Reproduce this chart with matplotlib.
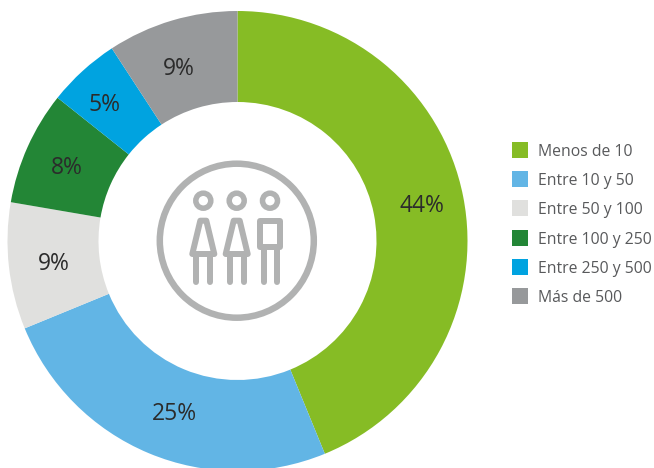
import matplotlib
matplotlib.use("Agg")
import matplotlib.pyplot as plt
from matplotlib.patches import Circle, Polygon, Rectangle

plt.rcParams['font.family'] = ['Open Sans', 'DejaVu Sans']

categories = ["Menos de 10", "Entre 10 y 50", "Entre 50 y 100",
              "Entre 100 y 250", "Entre 250 y 500", "Más de 500"]
values = [43.8, 25.0, 8.9, 8.0, 5.1, 9.2]
pct_labels = ["44%", "25%", "9%", "8%", "5%", "9%"]
colors = ["#86BC25", "#62B5E5", "#E0E0DE", "#238636", "#00A3E0", "#97999B"]

W, H = 654, 468
fig = plt.figure(figsize=(W / 100, H / 100), dpi=100)
ax = fig.add_axes([0, 0, 1, 1])

cx, cy, R, r = 237.5, 241, 230, 139
ax.pie(values, colors=colors, startangle=90, counterclock=False, center=(cx, -cy),
       radius=R, wedgeprops=dict(width=R - r, linewidth=0), frame=True)
ax.set_xlim(0, W)
ax.set_ylim(-H, 0)
ax.set_aspect('equal')
ax.axis('off')

label_pos = [(421.5, 206), (174.5, 414), (53.5, 264), (67, 168), (105, 105), (178.5, 69)]
for txt, (x, y) in zip(pct_labels, label_pos):
    ax.text(x, -y, txt, ha='center', va='center', fontsize=16.5, color='#2b2b2b')

# legend
for i, (c, name) in enumerate(zip(colors, categories)):
    yc = 150 + 29.2 * i
    ax.add_patch(Rectangle((512, -yc - 8), 16, 16, fc=c, ec='none'))
    ax.text(538, -yc - 2, name, ha='left', va='center', fontsize=11.3, color='#58595B')

# centre icon
G = '#B1B2B2'
pt = 0.72
ax.add_patch(Circle((236.8, -240.7), 77, fc='none', ec=G, lw=6.5 * pt))
for hx in (203.3, 236.7, 270):
    ax.add_patch(Circle((hx, -200.7), 7.5, fc='none', ec=G, lw=5.5 * pt))


def stroke(xs, ys, w=6):
    ax.plot(xs, [-y for y in ys], color=G, lw=w * pt, solid_capstyle='round')


for hx in (203.3, 236.7):
    ax.add_patch(Polygon([(hx - 3, -220.7), (hx + 3, -220.7), (hx + 11, -254), (hx - 11, -254)],
                         closed=True, fc='none', ec=G, lw=6 * pt, joinstyle='round'))
    stroke([hx - 7, hx - 7], [254, 282])
    stroke([hx + 7, hx + 7], [254, 282])
ax.add_patch(Rectangle((259.7, -247), 20.6, 26.3, fc='none', ec=G, lw=6 * pt, joinstyle='round'))
stroke([263.5, 263.5], [247, 282])
stroke([277, 277], [247, 282])

fig.savefig("out.png", dpi=100)
